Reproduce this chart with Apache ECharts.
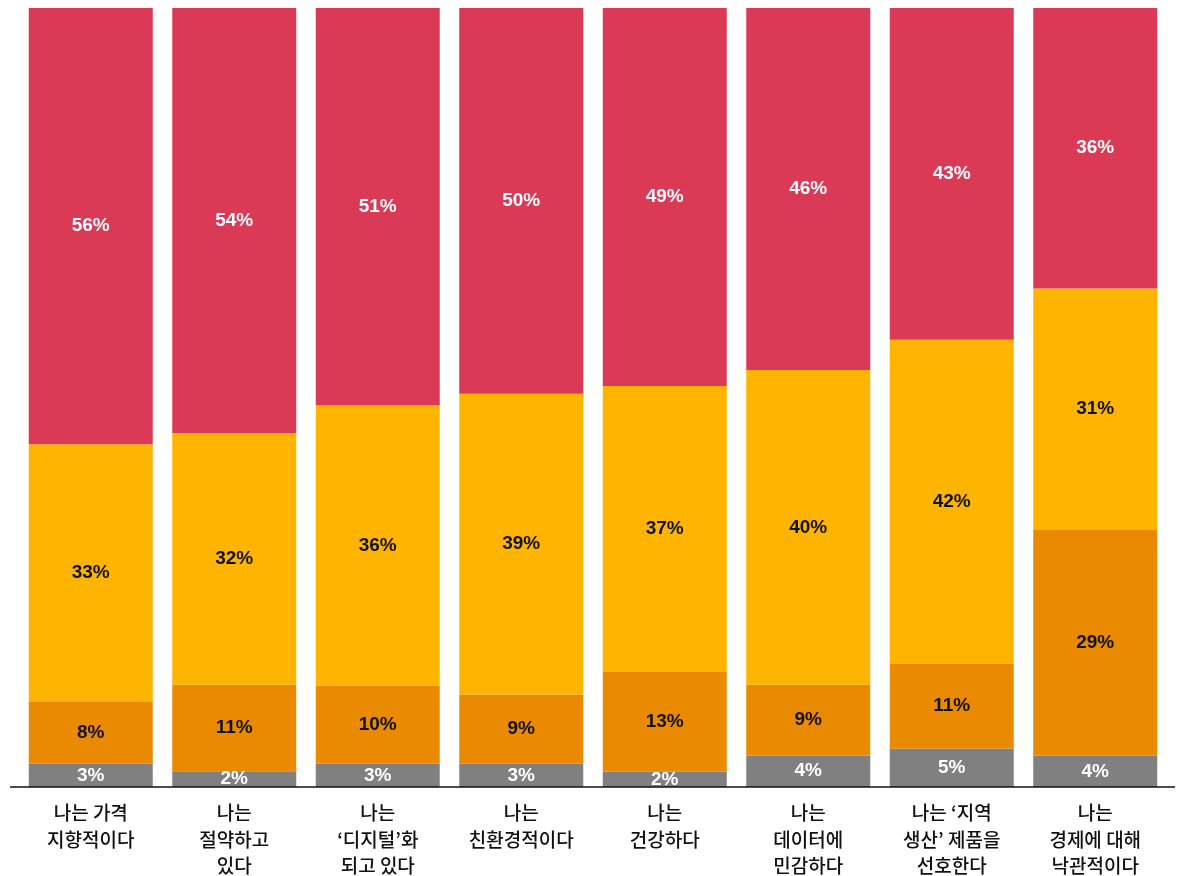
<!DOCTYPE html>
<html>
<head>
<meta charset="utf-8">
<script src="https://cdn.jsdelivr.net/npm/echarts@6/dist/echarts.min.js"></script>
<style>
  html, body { margin: 0; padding: 0; background: #fff; }
  #chart { width: 1182px; height: 876px; }
</style>
</head>
<body>
<div id="chart"></div>
<script>
const categories = [
  '나는 가격\n지향적이다',
  '나는\n절약하고\n있다',
  '나는\n‘디지털’화\n되고 있다',
  '나는\n친환경적이다',
  '나는\n건강하다',
  '나는\n데이터에\n민감하다',
  '나는 ‘지역\n생산’ 제품을\n선호한다',
  '나는\n경제에 대해\n낙관적이다'
]
const grayVals = [3, 2, 3, 3, 2, 4, 5, 4]
const orangeVals = [8, 11, 10, 9, 13, 9, 11, 29]
const yellowVals = [33, 32, 36, 39, 37, 40, 42, 31]
const redVals = [56, 54, 51, 50, 49, 46, 43, 36]

const layers = [
  { name: 'gray', vals: grayVals, color: '#808080', label: '#ffffff' },
  { name: 'orange', vals: orangeVals, color: '#E98A00', label: '#111111' },
  { name: 'yellow', vals: yellowVals, color: '#FFB400', label: '#111111' },
  { name: 'red', vals: redVals, color: '#DA3A55', label: '#ffffff' }
]

// each bar fills the full height, so scale by its own total
const totals = categories.map((_, i) => layers.reduce((s, l) => s + l.vals[i], 0))

const chart = echarts.init(document.getElementById('chart'))

const option = {
  animation: false,
  grid: { left: 19, right: 15, top: 8, bottom: 89, outerBoundsMode: 'none', containLabel: false },
  xAxis: {
    type: 'category',
    data: categories,
    axisLine: { show: false },
    axisTick: { show: false },
    axisLabel: {
      interval: 0,
      margin: 13,
      color: '#111',
      fontSize: 19,
      fontWeight: 500,
      lineHeight: 26.5,
      fontFamily: '"Noto Sans CJK KR", "Liberation Sans", sans-serif'
    }
  },
  yAxis: {
    type: 'value',
    min: 0,
    max: 100,
    show: false,
    splitLine: { show: false }
  },
  series: layers.map(l => ({
    name: l.name,
    type: 'bar',
    stack: 'total',
    barWidth: 124,
    itemStyle: { color: l.color },
    label: {
      show: true,
      position: 'inside',
      color: l.label,
      fontSize: 19,
      fontWeight: 'bold',
      fontFamily: '"Liberation Sans", Arial, sans-serif',
      formatter: p => l.vals[p.dataIndex] + '%'
    },
    data: l.vals.map((v, i) => v / totals[i] * 100)
  })),
  graphic: [{
    type: 'line',
    shape: { x1: 10, y1: 787, x2: 1175, y2: 787 },
    style: { stroke: '#111', lineWidth: 1.5 },
    z: 10
  }]
}

chart.setOption(option)
</script>
</body>
</html>
